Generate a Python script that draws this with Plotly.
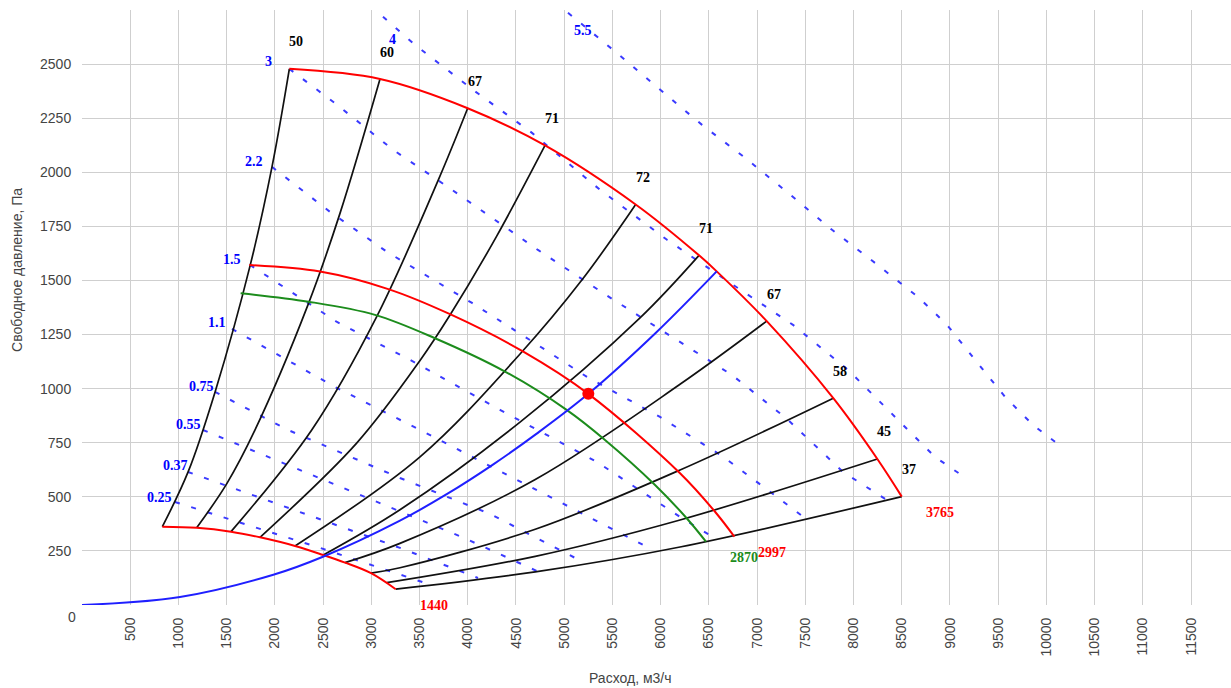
import plotly.graph_objects as go

# ---------------- tick labels ----------------
x_ticks = [0, 500, 1000, 1500, 2000, 2500, 3000, 3500, 4000, 4500, 5000, 5500,
           6000, 6500, 7000, 7500, 8000, 8500, 9000, 9500, 10000, 10500, 11000, 11500]
x_tick_text = ['', '500', '1000', '1500', '2000', '2500', '3000', '3500', '4000', '4500',
               '5000', '5500', '6000', '6500', '7000', '7500', '8000', '8500', '9000',
               '9500', '10000', '10500', '11000', '11500']
y_ticks = [250, 500, 750, 1000, 1250, 1500, 1750, 2000, 2250, 2500, 2750]
y_tick_text = ['250', '500', '750', '1000', '1250', '1500', '1750', '2000', '2250', '2500', '']

# ---------------- fan speed curves (rpm) ----------------
q_3765 = [2150, 3090, 3999, 4801, 5741, 6398, 6581, 7100, 7790, 8247, 8500]
p_3765 = [2478, 2431, 2296, 2124, 1851, 1616, 1542, 1312, 956, 675, 501]
q_2997 = [1735, 2468, 3176, 3816, 4576, 5250, 6201, 6564, 6764]
p_2997 = [1571, 1541, 1460, 1344, 1171, 976, 609, 431, 316]
q_2870 = [1645, 2347, 3038, 3660, 4386, 5025, 5423, 5942, 6270, 6470]
p_2870 = [1441, 1402, 1341, 1233, 1079, 902, 763, 555, 401, 293]
q_1440 = [833, 1189, 1545, 1846, 2209, 2502, 2727, 2997, 3253]
p_1440 = [362, 357, 339, 313, 273, 231, 196, 147, 73]

# ---------------- system curve and operating point ----------------
q_system = [0, 1016, 1984, 2492, 3297, 3782, 4265, 4715, 5250, 5959, 6581]
p_system = [0, 37, 140, 222, 390, 512, 650, 792, 976, 1262, 1542]
q_point = [5250]
p_point = [976]

# ---------------- efficiency lines (%) ----------------
eff_labels = ['50', '60', '67', '71', '72', '71', '67', '58', '45', '37']
eff_q = [
    [833, 1100, 1380, 1745, 1970, 2150],
    [1189, 1500, 1794, 2343, 2675, 3090],
    [1545, 2382, 3056, 3695, 3999],
    [1846, 2848, 3505, 3816, 4300, 4801],
    [2209, 3505, 4542, 5185, 5741],
    [2502, 3297, 4542, 5786, 6398],
    [2727, 3297, 4700, 6201, 7100],
    [2997, 3297, 4700, 6201, 7790],
    [3160, 4700, 6201, 8247],
    [3253, 4700, 6201, 8500],
]
eff_p = [
    [362, 615, 985, 1572, 2025, 2478],
    [357, 560, 809, 1387, 1810, 2431],
    [339, 809, 1333, 1965, 2296],
    [313, 748, 1130, 1340, 1705, 2124],
    [273, 685, 1160, 1503, 1851],
    [231, 440, 845, 1327, 1616],
    [196, 285, 580, 1020, 1312],
    [147, 172, 350, 624, 956],
    [103, 225, 393, 675],
    [73, 153, 268, 501],
]

# ---------------- power lines (kW) ----------------
pow_labels = ['0.25', '0.37', '0.55', '0.75', '1.1', '1.5', '2.2', '3', '4', '5.5']
pow_q = [
    [964, 2468, 3557],
    [1099, 2260, 3297, 4106],
    [1255, 2260, 3297, 3940, 4718],
    [1379, 2136, 3297, 4231, 5133],
    [1555, 2623, 3505, 4718, 5921],
    [1742, 2644, 3401, 4334, 5340, 6232, 6543],
    [1970, 2572, 3163, 4044, 4676, 5236, 5993, 6636, 7082, 7549],
    [2150, 2644, 3225, 3837, 4728, 5496, 6118, 6740, 7310, 7891, 8378],
    [3121, 3453, 4054, 4666, 5371, 6066, 6719, 7372, 7943, 8409, 8845, 9177],
    [5039, 5506, 5973, 6429, 6875, 7321, 7777, 8223, 8668, 8969, 9260, 9571, 9861, 10172],
]
pow_p = [
    [476, 264, 102],
    [615, 430, 264, 125],
    [809, 624, 430, 314, 157],
    [985, 809, 587, 421, 213],
    [1276, 1008, 809, 532, 254],
    [1572, 1308, 1133, 902, 661, 398, 314],
    [2025, 1817, 1632, 1396, 1216, 1054, 869, 689, 541, 384],
    [2478, 2312, 2104, 1919, 1641, 1415, 1239, 1063, 860, 615, 476],
    [2719, 2589, 2381, 2182, 1919, 1688, 1489, 1295, 1087, 878, 684, 583],
    [2737, 2566, 2390, 2219, 2067, 1905, 1734, 1581, 1424, 1295, 1133, 962, 832, 726],
]

# ---------------- styles ----------------
RED = '#ff0000'
GREEN = '#1c8c1c'
BLUE = '#1f1fff'
DASH_BLUE = '#3a3aff'
BLACK = '#111111'
SERIF = 'Liberation Serif, Times New Roman, serif'
SANS = 'Liberation Sans, Arial, sans-serif'
GREY = '#444444'

# label placement (anchor, pixel x shift, pixel y shift) for power labels
pow_label_style = {
    '0.25': ('right', -1, 5), '0.37': ('right', 2, 6), '0.55': ('right', 0, 5),
    '0.75': ('right', 1, 5), '1.1': ('right', -4, 6), '1.5': ('right', -7, 5),
    '2.2': ('right', -7, 5), '3': ('right', -15, 7), '4': ('left', 4, -23),
    '5.5': ('left', 4, -18),
}

fig = go.Figure()

# power lines
for qs, ps in zip(pow_q, pow_p):
    fig.add_trace(go.Scatter(x=qs, y=ps, mode='lines', hoverinfo='skip',
                             line=dict(color=DASH_BLUE, width=2, dash='5px,12px')))

# efficiency lines
for qs, ps in zip(eff_q, eff_p):
    fig.add_trace(go.Scatter(x=qs, y=ps, mode='lines', hoverinfo='skip',
                             line=dict(color=BLACK, width=1.7, shape='spline')))

# speed curves
for qs, ps, col in [(q_1440, p_1440, RED), (q_2870, p_2870, GREEN),
                    (q_2997, p_2997, RED), (q_3765, p_3765, RED)]:
    fig.add_trace(go.Scatter(x=qs, y=ps, mode='lines', hoverinfo='skip',
                             line=dict(color=col, width=2, shape='spline')))

# system curve
fig.add_trace(go.Scatter(x=q_system, y=p_system, mode='lines', hoverinfo='skip',
                         line=dict(color=BLUE, width=2, shape='spline')))
# operating point
fig.add_trace(go.Scatter(x=q_point, y=p_point, mode='markers', hoverinfo='skip',
                         marker=dict(color=RED, size=12)))

annotations = []
# efficiency labels at top end of each line
for lab, qs, ps in zip(eff_labels, eff_q, eff_p):
    annotations.append(dict(x=qs[-1], y=ps[-1], text='<b>%s</b>' % lab, showarrow=False,
                            xanchor='center', yanchor='middle', xshift=7, yshift=27,
                            font=dict(family=SERIF, size=14, color='#000000')))
# power labels at start of each line
for lab, qs, ps in zip(pow_labels, pow_q, pow_p):
    anc, xs, ys = pow_label_style[lab]
    annotations.append(dict(x=qs[0], y=ps[0], text='<b>%s</b>' % lab, showarrow=False,
                            xanchor=anc, yanchor='middle', xshift=xs, yshift=ys,
                            font=dict(family=SERIF, size=14, color='#0000ff')))
# speed labels at end of each speed curve
for lab, qs, ps, col in [('1440', q_1440, p_1440, RED), ('2870', q_2870, p_2870, GREEN),
                         ('2997', q_2997, p_2997, RED), ('3765', q_3765, p_3765, RED)]:
    annotations.append(dict(x=qs[-1], y=ps[-1], text='<b>%s</b>' % lab, showarrow=False,
                            xanchor='center', yanchor='middle', xshift=38, yshift=-16,
                            font=dict(family=SERIF, size=14, color=col)))
# corner zero and axis titles
annotations.append(dict(xref='paper', yref='paper', x=-0.0087, y=-0.0202, text='0',
                        xanchor='center', yanchor='middle', showarrow=False,
                        font=dict(family=SANS, size=14, color=GREY)))
annotations.append(dict(xref='paper', yref='paper', x=0.477, y=-0.1227,
                        xanchor='center', yanchor='middle',
                        text='Расход, м3/ч', showarrow=False,
                        font=dict(family=SANS, size=14, color=GREY)))
annotations.append(dict(xref='paper', yref='paper', x=-0.0566, y=0.563,
                        xanchor='center', yanchor='middle',
                        text='Свободное давление, Па', textangle=-90, showarrow=False,
                        font=dict(family=SANS, size=14, color=GREY)))

fig.update_layout(
    width=1231, height=688,
    margin=dict(l=82, r=0, t=10, b=83),
    paper_bgcolor='white', plot_bgcolor='white',
    showlegend=False,
    font=dict(family=SANS, size=14, color=GREY),
    annotations=annotations,
)
fig.update_xaxes(range=[0, 11914], tickmode='array', tickvals=x_ticks, ticktext=x_tick_text,
                 tickangle=-90, showgrid=True, gridcolor='#cfcfcf', gridwidth=1,
                 zeroline=False, showline=False, ticks='outside', ticklen=6,
                 tickcolor='rgba(0,0,0,0)', tickfont=dict(family=SANS, size=14, color=GREY))
fig.update_yaxes(range=[0, 2750], tickmode='array', tickvals=y_ticks, ticktext=y_tick_text,
                 showgrid=True, gridcolor='#cfcfcf', gridwidth=1,
                 zeroline=False, showline=False, ticks='outside', ticklen=7,
                 tickcolor='rgba(0,0,0,0)', tickfont=dict(family=SANS, size=14, color=GREY))

fig.write_html("out.html", config={'displayModeBar': False},
               post_script="document.body.style.margin='0';")
